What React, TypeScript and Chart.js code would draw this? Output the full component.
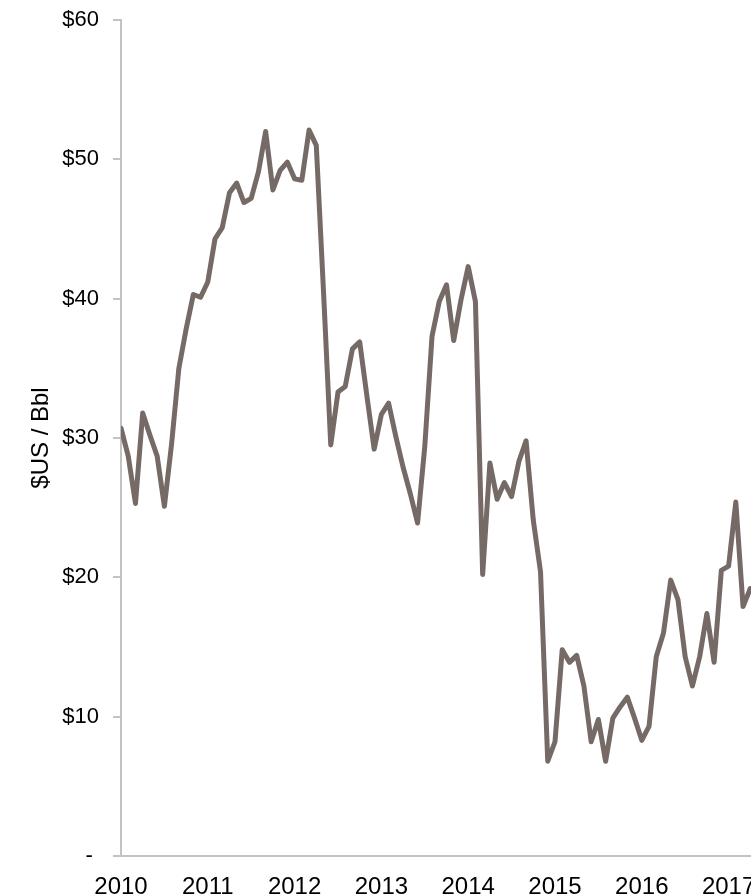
import React, { useEffect, useRef } from 'react';
import { Chart, registerables } from 'chart.js';

Chart.register(...registerables);

// Year labels placed at each January on the month axis
const yearLabels = ['2010', '2011', '2012', '2013', '2014', '2015', '2016', '2017'];
const monthsPerYear = 12;

// Monthly price, $US per barrel, starting January 2010
const prices2010 = [30.7, 28.7, 25.3, 31.8, 30.2, 28.7, 25.1, 29.6, 35.0, 37.8, 40.3, 40.1];
const prices2011 = [41.2, 44.3, 45.1, 47.6, 48.3, 46.9, 47.2, 49.1, 52.0, 47.8, 49.2, 49.8];
const prices2012 = [48.6, 48.5, 52.1, 51.0, 40.5, 29.5, 33.3, 33.7, 36.4, 36.9, 33.0, 29.2];
const prices2013 = [31.7, 32.5, 30.1, 27.9, 26.0, 23.9, 29.4, 37.3, 39.8, 41.0, 37.0, 39.9];
const prices2014 = [42.3, 39.8, 20.2, 28.2, 25.6, 26.8, 25.8, 28.3, 29.8, 24.1, 20.4, 6.8];
const prices2015 = [8.2, 14.8, 13.9, 14.4, 12.2, 8.2, 9.8, 6.8, 9.9, 10.7, 11.4, 9.9];
const prices2016 = [8.3, 9.3, 14.3, 16.0, 19.8, 18.4, 14.3, 12.2, 14.3, 17.4, 13.9, 20.5];
const prices2017 = [20.8, 25.4, 17.9, 19.2];

const prices = [
  ...prices2010, ...prices2011, ...prices2012, ...prices2013,
  ...prices2014, ...prices2015, ...prices2016, ...prices2017,
];

// Value axis ticks and their labels
const yTickValues = [0, 10, 20, 30, 40, 50, 60];
const yTickLabels = ['- ', '$10', '$20', '$30', '$40', '$50', '$60'];

// The month axis ends just past April 2017
const monthAxisEnd = 87.1;

const FONT = "'Liberation Sans', Arial, Helvetica, sans-serif";
const AXIS_GRAY = '#c3c3c3';
const LINE_COLOR = '#766a66';

export default function App() {
  const canvasRef = useRef<HTMLCanvasElement | null>(null);

  useEffect(() => {
    const canvas = canvasRef.current;
    if (!canvas) return;

    const chart = new Chart(canvas, {
      type: 'line',
      data: {
        datasets: [
          {
            data: prices.map((v, i) => ({ x: i, y: v })),
            borderColor: LINE_COLOR,
            borderWidth: 5,
            borderJoinStyle: 'round',
            borderCapStyle: 'round',
            pointRadius: 0,
            tension: 0,
            fill: false,
          },
        ],
      },
      options: {
        animation: false,
        responsive: false,
        devicePixelRatio: 1,
        layout: { padding: { top: 20, left: 0, right: 0, bottom: 0 } },
        plugins: {
          legend: { display: false },
          tooltip: { enabled: false },
        },
        scales: {
          x: {
            type: 'linear',
            min: 0,
            max: monthAxisEnd,
            grid: { display: false, drawTicks: false },
            border: { display: true, color: AXIS_GRAY, width: 2 },
            ticks: {
              autoSkip: false,
              maxRotation: 0,
              padding: 17,
              color: '#000',
              font: { family: FONT, size: 24 },
              callback: (v: any) => yearLabels[Math.round(Number(v) / monthsPerYear)] ?? '',
            },
            afterBuildTicks: (scale: any) => {
              scale.ticks = yearLabels.map((_, i) => ({ value: i * monthsPerYear }));
            },
            afterFit: (scale: any) => {
              scale.height = 40;
              scale.paddingLeft = 0;
              scale.paddingRight = 0;
            },
          },
          y: {
            min: 0,
            max: 60,
            grid: {
              drawOnChartArea: false,
              drawTicks: true,
              tickLength: 8,
              color: AXIS_GRAY,
              lineWidth: 2,
            },
            border: { display: true, color: AXIS_GRAY, width: 2 },
            ticks: {
              stepSize: 10,
              padding: 14,
              color: '#000',
              font: { family: FONT, size: 22 },
              callback: (v: any) => {
                const idx = yTickValues.indexOf(Number(v));
                return idx >= 0 ? yTickLabels[idx] : '';
              },
            },
            title: {
              display: true,
              text: '$US / Bbl',
              color: '#000',
              font: { family: FONT, size: 24 },
              padding: { top: 27, bottom: 0 },
            },
            afterFit: (scale: any) => {
              scale.width = 121;
              scale.paddingTop = 0;
              scale.paddingBottom = 0;
            },
          },
        },
      },
    });

    return () => chart.destroy();
  }, []);

  return (
    <div style={{ position: 'absolute', left: 0, top: 0, width: 751, height: 896, overflow: 'hidden', background: '#fff' }}>
      <canvas ref={canvasRef} width={751} height={896} style={{ width: 751, height: 896, display: 'block' }} />
    </div>
  );
}
